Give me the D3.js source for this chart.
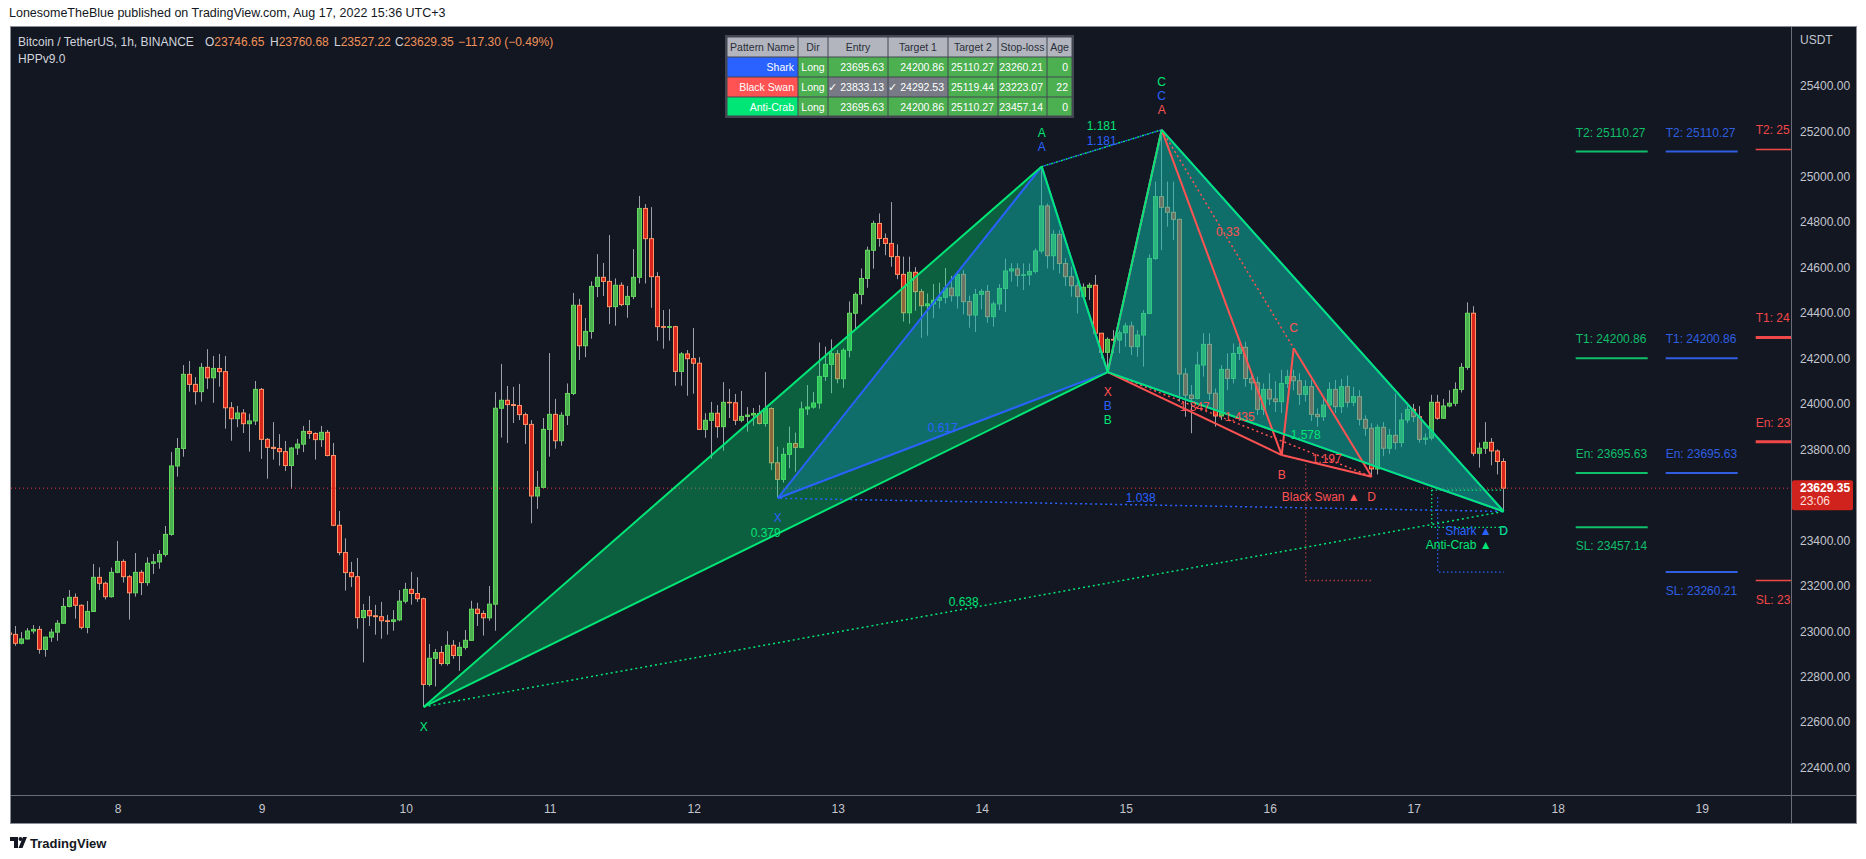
<!DOCTYPE html>
<html lang="en">
<head>
<meta charset="UTF-8"/>
<title>BTCUSDT 1h - harmonic patterns</title>
<script src="https://cdn.jsdelivr.net/npm/d3@7"></script>
<style>
  body { margin: 0; background: #ffffff; }
  svg { display: block; font-family: "Liberation Sans", Arial, sans-serif; }
</style>
</head>
<body>
<svg id="chart" width="1866" height="859"></svg>
<script>
// ---- data (chart time is UTC+3, stored as UTC clock values) ----
const firstBar = "2022-08-07T06:00:00Z";   // bar index 0, one bar per hour
const firstOpen = 22992;
// open of each bar = close of the previous bar
const closes = [22986,
  22947,22966,23001,23008,22920,22974,22996,23035,23109,23149,23114,23017,
  23087,23237,23211,23152,23259,23307,23240,23169,23259,23214,23299,23305,
  23338,23426,23727,23804,24130,24086,24054,24161,24115,24156,24142,23983,
  23935,23960,23913,23925,24064,23844,23809,23804,23790,23729,23806,23823,
  23879,23870,23843,23875,23773,23466,23346,23258,23240,23060,23091,23068,
  23064,23046,23043,23050,23132,23184,23166,23143,22766,22881,22906,22858,
  22938,22893,22929,22960,23097,23078,23059,23119,23981,24016,23997,23993,
  23953,23910,23595,23633,23888,23954,23838,23950,24046,24434,24256,24319,
  24517,24557,24539,24428,24522,24437,24473,24557,24860,24727,24560,24340,
  24337,24340,24143,24220,24199,24179,23888,23928,23959,23900,24007,24005,
  23928,23945,23951,23958,23914,23980,23741,23668,23778,23826,23809,23978,
  23986,24004,24121,24174,24221,24111,24236,24399,24482,24552,24676,24794,
  24728,24706,24648,24570,24401,24579,24494,24432,24440,24456,24469,24510,
  24476,24570,24450,24391,24482,24495,24384,24440,24508,24585,24594,24566,
  24568,24583,24673,24871,24652,24746,24618,24560,24520,24472,24513,24522,
  24311,24227,24284,24281,24313,24343,24252,24303,24398,24640,24912,24865,
  24843,24812,24132,24039,24024,24171,24262,24047,23947,24152,24112,24222,
  24249,24112,24093,23976,24064,24022,24010,24090,24120,24102,24042,24076,
  23954,23944,23995,24064,23988,24076,24007,24032,23932,23893,23714,23897,
  23805,23862,23830,23929,23976,23944,23844,23850,24007,23937,23991,24003,
  24064,24161,24399,23783,23805,23831,23793,23746.65,23629.35];
const highs = [23000,
  23023,22996,23014,23027,23023,22976,23010,23049,23146,23181,23166,23118,
  23133,23296,23281,23218,23280,23397,23316,23247,23344,23269,23325,23340,
  23357,23463,23788,23850,24171,24189,24118,24180,24241,24211,24220,24211,
  24008,23991,23977,23957,24101,24070,23850,23920,23867,23837,23810,23846,
  23903,23929,23875,23903,23885,23828,23529,23409,23305,23322,23120,23155,
  23116,23129,23072,23093,23181,23213,23261,23238,23148,22944,22922,22935,
  23000,22961,22952,23005,23134,23125,23091,23199,24052,24176,24079,24075,
  24088,23962,23929,23705,23938,24224,24022,23963,24090,24488,24462,24378,
  24539,24659,24620,24743,24552,24535,24519,24681,24915,24879,24866,24580,
  24413,24417,24344,24228,24237,24334,24206,23959,24009,23995,24096,24066,
  24044,24057,23986,23982,23995,24140,23985,23812,23807,23900,23874,24010,
  24083,24052,24270,24252,24284,24237,24245,24451,24491,24596,24692,24806,
  24838,24750,24888,24702,24648,24648,24602,24506,24486,24527,24533,24598,
  24563,24585,24589,24476,24506,24506,24523,24451,24527,24639,24619,24619,
  24618,24618,24684,25044,24882,24765,24765,24641,24604,24538,24530,24533,
  24567,24311,24293,24325,24325,24357,24362,24325,24413,24658,24978,25206,
  24978,24978,24815,24157,24083,24230,24311,24311,24068,24171,24222,24266,
  24269,24274,24134,24120,24090,24135,24100,24150,24150,24150,24135,24105,
  24105,23980,24030,24095,24105,24110,24125,24075,24060,23950,23915,23910,
  23920,23890,24045,23960,24005,24000,23990,23870,24040,24040,24022,24060,
  24095,24180,24447,24430,23830,23920,23850,23800,23760.68];
const lows = [22978,
  22936,22942,22964,22989,22901,22888,22953,22958,23033,23105,23055,23008,
  22991,23085,23181,23140,23148,23255,23214,23051,23152,23159,23200,23252,
  23275,23328,23420,23680,23768,24054,23997,24010,24066,24005,24076,23891,
  23838,23898,23872,23790,23907,23758,23671,23755,23728,23705,23626,23776,
  23788,23846,23755,23811,23769,23462,23334,23179,23195,23011,22863,23023,
  22985,22967,22985,23002,23044,23122,23117,23129,22667,22757,22757,22849,
  22849,22879,22826,22919,22958,23023,22981,23046,23002,23852,23828,23916,
  23929,23824,23475,23538,23628,23768,23803,23816,23907,24039,24193,24206,
  24287,24470,24475,24351,24344,24430,24379,24461,24530,24530,24423,24278,
  24243,24278,24080,24080,24036,24045,23885,23851,23759,23851,23794,23938,
  23907,23919,23878,23904,23910,23900,23709,23588,23654,23717,23702,23805,
  23951,23979,23979,24101,24047,24091,24071,24205,24332,24438,24511,24595,
  24692,24654,24604,24549,24362,24353,24410,24291,24300,24377,24420,24442,
  24450,24420,24394,24335,24316,24416,24357,24340,24413,24404,24538,24516,
  24501,24522,24574,24662,24596,24589,24574,24519,24472,24398,24470,24457,
  24305,24200,24140,24223,24223,24252,24215,24208,24164,24395,24633,24677,
  24780,24721,24010,23944,23871,24020,24120,24017,23900,23929,24061,24090,
  24193,24076,24061,23951,23951,23995,23965,23960,24070,24060,23995,24010,
  23925,23900,23925,23980,23960,23960,23985,23990,23905,23860,23680,23690,
  23770,23780,23800,23810,23915,23920,23830,23820,23840,23930,23935,23985,
  23990,24050,24150,23770,23720,23780,23730,23690,23527.22];

// pattern pivots: [bar index, price] for X, A, B, C, D
const sharkPts = [[128, 23585], [172, 25044], [183, 24140], [192, 25206], [249, 23527]];
const swanPts  = [[183, 24140], [192, 25206], [212, 23775], [214, 24245], [227, 23680]];
const crabPts  = [[69, 22667], [172, 25044], [183, 24140], [192, 25206], [249, 23527]];
// ratios shown on XB, AC, BD, XD
const sharkRatios = ["0.617", "1.181", null, "1.038"];
const swanRatios  = ["1.347", "0.33", "1.197", "1.435"];
const crabRatios  = ["0.379", "1.181", "1.578", "0.638"];
// T2, T1, En, SL
const levelNames  = ["T2", "T1", "En", "SL"];
const sharkLevels = [25110.27, 24200.86, 23695.63, 23260.21];
const swanLevels  = [25119.44, 24292.53, 23833.13, 23223.07];
const crabLevels  = [25110.27, 24200.86, 23695.63, 23457.14];
// stop-loss guides: [bar index, top price]
const sharkGuide = [238, 23589];
const swanGuide  = [216, 23752];
const crabGuide  = [237, 23621];

const tableHead = ["Pattern Name", "Dir", "Entry", "Target 1", "Target 2", "Stop-loss", "Age"];
const tableRows = [
  ["Shark", "Long", "23695.63", "24200.86", "25110.27", "23260.21", "0"],
  ["Black Swan", "Long", "\u2713 23833.13", "\u2713 24292.53", "25119.44", "23223.07", "22"],
  ["Anti-Crab", "Long", "23695.63", "24200.86", "25110.27", "23457.14", "0"]
];
const priceTicks = d3.range(22400, 25401, 200).filter(v => v !== 23600);
const lastPrice = 23629.35;

// ---- style ----
const BG = "#131722", AXIS_TXT = "#c3c6ce";
const GREEN = "#00e676", BLUE = "#2962ff", RED = "#ff5252";

const svg = d3.select("#chart");
const plot = {left: 11, right: 1791, top: 27, bottom: 795};

const barTime = i => new Date(Date.parse(firstBar) + i * 3600e3);
const x = d3.scaleUtc()
  .domain([new Date(Date.UTC(2022, 7, 8)), new Date(Date.UTC(2022, 7, 19))])
  .range([117.7, 1701.7]);
const y = d3.scaleLinear().domain([22400, 25400]).range([767.6, 85.7]);
const bx = i => x(barTime(i));

// panel
svg.append("rect").attr("x", 10.5).attr("y", 26.5).attr("width", 1846).attr("height", 797)
  .attr("fill", BG).attr("stroke", "#8a8d96");

svg.append("defs").append("clipPath").attr("id", "plotClip")
  .append("rect").attr("x", plot.left).attr("y", plot.top)
  .attr("width", plot.right - plot.left).attr("height", plot.bottom - plot.top);

const g = svg.append("g").attr("clip-path", "url(#plotClip)");

// candles
const bars = closes.map((c, i) => {
  const o = i === 0 ? firstOpen : closes[i - 1];
  return {i, o, c, h: Math.max(highs[i], o, c), l: Math.min(lows[i], o, c)};
});
const cx = d => Math.floor(bx(d.i)) + 0.5;

g.append("g").selectAll("line").data(bars).join("line")
  .attr("x1", cx).attr("x2", cx)
  .attr("y1", d => y(d.h)).attr("y2", d => y(d.l))
  .attr("stroke", "#9ea1aa").attr("stroke-width", 1);

g.append("g").selectAll("rect").data(bars).join("rect")
  .attr("x", d => cx(d) - 2).attr("width", 4)
  .attr("y", d => y(Math.max(d.o, d.c)))
  .attr("height", d => Math.max(0.5, Math.abs(y(d.o) - y(d.c))))
  .attr("fill", d => d.c >= d.o ? "#4caf50" : "#d9261c")
  .attr("stroke", d => d.c >= d.o ? "#62d95c" : "#ff9466")
  .attr("stroke-width", 1);

// last price line
g.append("line")
  .attr("x1", plot.left).attr("x2", plot.right)
  .attr("y1", y(lastPrice)).attr("y2", y(lastPrice))
  .attr("stroke", "#f23645").attr("stroke-width", 1).attr("stroke-dasharray", "1,3");

// pattern fills (shark below anti-crab)
const pt = p => [bx(p[0]), y(p[1])];
function fillPattern(pts, color, alpha) {
  const P = pts.map(pt);
  [[P[0], P[1], P[2]], [P[2], P[3], P[4]]].forEach(tri => {
    g.append("path").attr("d", d3.line()(tri) + "Z")
      .attr("fill", color).attr("fill-opacity", alpha);
  });
}
fillPattern(sharkPts, BLUE, 0.3);
fillPattern(crabPts, GREEN, 0.35);

function drawLines(pts, color, dashOffset) {
  const P = pts.map(pt);
  const solid = [[0, 1], [1, 2], [0, 2], [2, 3], [3, 4], [2, 4]];
  const dotted = [[1, 3], [0, 4]];
  dotted.forEach(([a, b]) => g.append("line")
    .attr("x1", P[a][0]).attr("y1", P[a][1]).attr("x2", P[b][0]).attr("y2", P[b][1])
    .attr("stroke", color).attr("stroke-width", 1.5)
    .attr("stroke-dasharray", "2,3").attr("stroke-dashoffset", dashOffset));
  solid.forEach(([a, b]) => g.append("line")
    .attr("x1", P[a][0]).attr("y1", P[a][1]).attr("x2", P[b][0]).attr("y2", P[b][1])
    .attr("stroke", color).attr("stroke-width", 2));
}

// stop-loss guides
function guide(gd, sl, endIdx, color) {
  const gx = bx(gd[0]);
  g.append("path")
    .attr("d", `M${gx},${y(gd[1])}V${y(sl)}H${bx(endIdx)}`)
    .attr("fill", "none").attr("stroke", color).attr("stroke-width", 1.3)
    .attr("stroke-dasharray", "1.5,2.5");
}
guide(swanGuide, swanLevels[3], swanPts[4][0], "#a8383c");
guide(sharkGuide, sharkLevels[3], sharkPts[4][0], BLUE);
guide(crabGuide, crabLevels[3], crabPts[4][0], GREEN);
g.append("line").attr("x1", bx(crabGuide[0])).attr("x2", bx(crabPts[4][0]))
  .attr("y1", y(crabGuide[1])).attr("y2", y(crabGuide[1]))
  .attr("stroke", GREEN).attr("stroke-width", 1.3).attr("stroke-dasharray", "1.5,2.5");

drawLines(sharkPts, BLUE, 2.5);
drawLines(swanPts, RED, 0);
drawLines(crabPts, GREEN, 0);

// ratio labels
const ratioSlots = new Map();
function ratioLabels(pts, ratios, color) {
  const pairs = [[0, 2], [1, 3], [2, 4], [0, 4]];
  pairs.forEach(([a, b], k) => {
    if (!ratios[k]) return;
    const mx = (bx(pts[a][0]) + bx(pts[b][0])) / 2;
    const my = (y(pts[a][1]) + y(pts[b][1])) / 2;
    const key = Math.round(mx) + "," + Math.round(my);
    const n = ratioSlots.get(key) || 0;
    ratioSlots.set(key, n + 1);
    g.append("text").attr("x", mx).attr("y", my - 7 - 15 * n)
      .attr("text-anchor", "middle").attr("dominant-baseline", "central")
      .attr("font-size", 12).attr("fill", color).text(ratios[k]);
  });
}
ratioLabels(sharkPts, sharkRatios, BLUE);
ratioLabels(swanPts, swanRatios, RED);
ratioLabels(crabPts, crabRatios, GREEN);

// pivot letters, stacked: black swan nearest, then shark, then anti-crab
const pivotSlots = new Map();
function pivotLabels(pts, name, color) {
  const letters = ["X", "A", "B", "C", "D"];
  pts.forEach((p, k) => {
    const up = k === 1 || k === 3;
    const key = p[0] + (up ? "u" : "d");
    const n = pivotSlots.get(key) || 0;
    pivotSlots.set(key, n + 1);
    const px = bx(p[0]), py = y(p[1]);
    const ly = up ? py - 20 - 14 * n : py + 20 + 14 * n;
    if (k === 4) {
      g.append("text").attr("x", px - 12).attr("y", ly)
        .attr("text-anchor", "end").attr("dominant-baseline", "central")
        .attr("font-size", 12).attr("fill", color).text(name + " \u25B2");
      g.append("text").attr("x", px).attr("y", py + 20)
        .attr("text-anchor", "middle").attr("dominant-baseline", "central")
        .attr("font-size", 12).attr("fill", color).text("D");
    } else {
      g.append("text").attr("x", px).attr("y", ly)
        .attr("text-anchor", "middle").attr("dominant-baseline", "central")
        .attr("font-size", 12).attr("fill", color).text(letters[k]);
    }
  });
}
pivotLabels(swanPts, "Black Swan", RED);
pivotLabels(sharkPts, "Shark", BLUE);
pivotLabels(crabPts, "Anti-Crab", GREEN);

// target / entry / stop levels at the right (labels cut at the price scale)
function levelsBlock(levels, startIdx, color, widths) {
  const x1 = bx(startIdx), x2 = bx(startIdx + 12);
  levels.forEach((v, k) => {
    const ly = y(v);
    g.append("line").attr("x1", x1).attr("x2", x2).attr("y1", ly).attr("y2", ly)
      .attr("stroke", color).attr("stroke-width", widths[k]);
    const below = levelNames[k] === "SL";
    const t = g.append("text").attr("x", x1).attr("y", below ? ly + 19 : ly - 19)
      .attr("dominant-baseline", "central").attr("font-size", 12)
      .attr("fill", color);
    let s = levelNames[k] + ": " + v.toFixed(2);
    t.text(s);
    while (s.length > 1 && x1 + t.node().getComputedTextLength() > plot.right + 4) {
      s = s.slice(0, -1);
      t.text(s);
    }
  });
}
levelsBlock(crabLevels, 261, "#0fbf6a", [2, 2, 2, 2]);
levelsBlock(sharkLevels, 276, "#2f5fe0", [2, 2, 2, 2]);
levelsBlock(swanLevels, 291, "#f04848", [1.5, 3, 3, 1.5]);

// axes
svg.append("line").attr("x1", plot.right + 0.5).attr("x2", plot.right + 0.5)
  .attr("y1", 27).attr("y2", 823).attr("stroke", "#6a6d78");
svg.append("line").attr("x1", 11).attr("x2", 1856).attr("y1", plot.bottom + 0.5)
  .attr("y2", plot.bottom + 0.5).attr("stroke", "#6a6d78");

const yAxis = svg.append("g").attr("transform", `translate(${plot.right},0)`)
  .call(d3.axisRight(y).tickValues(priceTicks).tickSize(0).tickPadding(9)
    .tickFormat(d3.format(".2f")));
yAxis.select(".domain").remove();
yAxis.selectAll("text").attr("fill", AXIS_TXT).attr("font-size", 12)
  .attr("font-family", "Liberation Sans, Arial, sans-serif");

const xAxis = svg.append("g").attr("transform", `translate(0,${plot.bottom})`)
  .call(d3.axisBottom(x).ticks(d3.utcDay.every(1)).tickSize(0).tickPadding(9)
    .tickFormat(d3.utcFormat("%-d")));
xAxis.select(".domain").remove();
xAxis.selectAll("text").attr("fill", AXIS_TXT).attr("font-size", 12)
  .attr("font-family", "Liberation Sans, Arial, sans-serif");

svg.append("text").attr("x", 1800).attr("y", 40).attr("dominant-baseline", "central")
  .attr("font-size", 12).attr("fill", AXIS_TXT).text("USDT");

// last price tag
const tagY = y(lastPrice);
svg.append("rect").attr("x", plot.right + 1).attr("y", tagY - 8).attr("width", 61)
  .attr("height", 30).attr("rx", 2).attr("fill", "#d1231d");
svg.append("text").attr("x", 1800).attr("y", tagY).attr("dominant-baseline", "central")
  .attr("font-size", 12).attr("font-weight", "bold").attr("fill", "#fff").text(lastPrice.toFixed(2));
svg.append("text").attr("x", 1800).attr("y", tagY + 13).attr("dominant-baseline", "central")
  .attr("font-size", 12).attr("fill", "#fde0de").text("23:06");

// table
const colX = [727, 798, 828, 888, 948, 998, 1047, 1072];
const rowY = [37, 57, 77, 97, 116];
const nameFill = [BLUE, RED, GREEN];
svg.append("rect").attr("x", 725).attr("y", 35).attr("width", 349).attr("height", 83)
  .attr("fill", "#434651");
const cells = [];
tableHead.forEach((t, c) => cells.push({r: 0, c, t, fill: "#b2b5be", color: "#2a2e39", anchor: "middle"}));
tableRows.forEach((row, r) => row.forEach((t, c) => {
  const fill = c === 0 ? nameFill[r] : (t.startsWith("\u2713") ? "#787b86" : "#4caf50");
  cells.push({r: r + 1, c, t, fill, color: "#ffffff", anchor: c === 1 ? "middle" : "end"});
}));
const tg = svg.append("g");
tg.selectAll("rect").data(cells).join("rect")
  .attr("x", d => colX[d.c] + 0.5).attr("y", d => rowY[d.r] + 0.5)
  .attr("width", d => colX[d.c + 1] - colX[d.c] - 1).attr("height", d => rowY[d.r + 1] - rowY[d.r] - 1)
  .attr("fill", d => d.fill);
tg.selectAll("text").data(cells).join("text")
  .attr("x", d => d.anchor === "middle" ? (colX[d.c] + colX[d.c + 1]) / 2 : colX[d.c + 1] - 4)
  .attr("y", d => (rowY[d.r] + rowY[d.r + 1]) / 2)
  .attr("text-anchor", d => d.anchor).attr("dominant-baseline", "central")
  .attr("font-size", 10.5).attr("fill", d => d.color).text(d => d.t);

// legend / header texts
svg.append("text").attr("x", 9).attr("y", 13).attr("dominant-baseline", "central")
  .attr("font-size", 12.5).attr("fill", "#131722")
  .text("LonesomeTheBlue published on TradingView.com, Aug 17, 2022 15:36 UTC+3");

const legend = svg.append("g").attr("font-size", 12);
legend.append("text").attr("x", 18).attr("y", 42).attr("dominant-baseline", "central")
  .attr("fill", "#d1d4dc").text("Bitcoin / TetherUS, 1h, BINANCE");
const ohlc = [["O", "23746.65", 205], ["H", "23760.68", 270], ["L", "23527.22", 334], ["C", "23629.35", 395]];
ohlc.forEach(([k, v, lx]) => {
  const t = legend.append("text").attr("x", lx).attr("y", 42).attr("dominant-baseline", "central");
  t.append("tspan").attr("fill", "#d1d4dc").text(k);
  t.append("tspan").attr("fill", "#f0925a").text(v);
});
legend.append("text").attr("x", 458).attr("y", 42).attr("dominant-baseline", "central")
  .attr("fill", "#f0925a").text("\u2212117.30 (\u22120.49%)");
legend.append("text").attr("x", 18).attr("y", 59).attr("dominant-baseline", "central")
  .attr("fill", "#d1d4dc").text("HPPv9.0");

// footer logo
const logo = svg.append("g").attr("fill", "#131722");
logo.append("path").attr("d", "M10,837h8v11h-4v-7h-4z");
logo.append("circle").attr("cx", 20.5).attr("cy", 839).attr("r", 2);
logo.append("path").attr("d", "M23,837h4l-4.5,11h-4z");
svg.append("text").attr("x", 30).attr("y", 843).attr("dominant-baseline", "central")
  .attr("font-size", 13).attr("font-weight", "bold").attr("fill", "#131722").text("TradingView");
</script>
</body>
</html>
